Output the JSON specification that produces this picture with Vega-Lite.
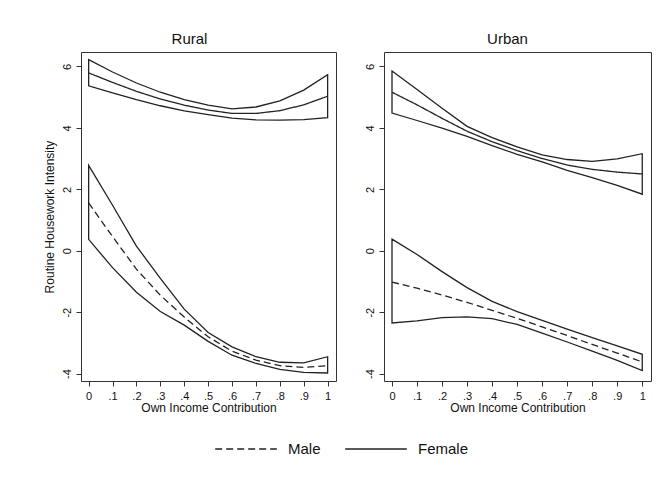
{
  "$schema": "https://vega.github.io/schema/vega-lite/v6.json",
  "background": "white",
  "padding": {"left": 42, "top": 31, "right": 5, "bottom": 5},
  "data": {"values": [
    {"region":"Rural","sex":"Female","x":0,"fit":5.79,"lo":5.37,"hi":6.22},
    {"region":"Rural","sex":"Female","x":0.1,"fit":5.48,"lo":5.14,"hi":5.82},
    {"region":"Rural","sex":"Female","x":0.2,"fit":5.19,"lo":4.92,"hi":5.46},
    {"region":"Rural","sex":"Female","x":0.3,"fit":4.94,"lo":4.72,"hi":5.16},
    {"region":"Rural","sex":"Female","x":0.4,"fit":4.74,"lo":4.55,"hi":4.92},
    {"region":"Rural","sex":"Female","x":0.5,"fit":4.58,"lo":4.43,"hi":4.74},
    {"region":"Rural","sex":"Female","x":0.6,"fit":4.47,"lo":4.32,"hi":4.62},
    {"region":"Rural","sex":"Female","x":0.7,"fit":4.47,"lo":4.26,"hi":4.68},
    {"region":"Rural","sex":"Female","x":0.8,"fit":4.56,"lo":4.25,"hi":4.88},
    {"region":"Rural","sex":"Female","x":0.9,"fit":4.75,"lo":4.27,"hi":5.23},
    {"region":"Rural","sex":"Female","x":1,"fit":5.03,"lo":4.33,"hi":5.73},
    {"region":"Rural","sex":"Male","x":0,"fit":1.56,"lo":0.37,"hi":2.78},
    {"region":"Rural","sex":"Male","x":0.1,"fit":0.46,"lo":-0.55,"hi":1.48},
    {"region":"Rural","sex":"Male","x":0.2,"fit":-0.6,"lo":-1.35,"hi":0.15},
    {"region":"Rural","sex":"Male","x":0.3,"fit":-1.45,"lo":-1.98,"hi":-0.9},
    {"region":"Rural","sex":"Male","x":0.4,"fit":-2.16,"lo":-2.42,"hi":-1.9},
    {"region":"Rural","sex":"Male","x":0.5,"fit":-2.8,"lo":-2.95,"hi":-2.66},
    {"region":"Rural","sex":"Male","x":0.6,"fit":-3.27,"lo":-3.4,"hi":-3.13},
    {"region":"Rural","sex":"Male","x":0.7,"fit":-3.56,"lo":-3.67,"hi":-3.45},
    {"region":"Rural","sex":"Male","x":0.8,"fit":-3.74,"lo":-3.86,"hi":-3.63},
    {"region":"Rural","sex":"Male","x":0.9,"fit":-3.8,"lo":-3.96,"hi":-3.65},
    {"region":"Rural","sex":"Male","x":1,"fit":-3.74,"lo":-3.98,"hi":-3.45},
    {"region":"Urban","sex":"Female","x":0,"fit":5.16,"lo":4.48,"hi":5.85},
    {"region":"Urban","sex":"Female","x":0.1,"fit":4.75,"lo":4.24,"hi":5.25},
    {"region":"Urban","sex":"Female","x":0.2,"fit":4.31,"lo":3.99,"hi":4.64},
    {"region":"Urban","sex":"Female","x":0.3,"fit":3.89,"lo":3.72,"hi":4.05},
    {"region":"Urban","sex":"Female","x":0.4,"fit":3.55,"lo":3.42,"hi":3.68},
    {"region":"Urban","sex":"Female","x":0.5,"fit":3.26,"lo":3.14,"hi":3.38},
    {"region":"Urban","sex":"Female","x":0.6,"fit":3.0,"lo":2.89,"hi":3.12},
    {"region":"Urban","sex":"Female","x":0.7,"fit":2.79,"lo":2.62,"hi":2.97},
    {"region":"Urban","sex":"Female","x":0.8,"fit":2.65,"lo":2.38,"hi":2.91},
    {"region":"Urban","sex":"Female","x":0.9,"fit":2.56,"lo":2.13,"hi":2.99},
    {"region":"Urban","sex":"Female","x":1,"fit":2.5,"lo":1.84,"hi":3.16},
    {"region":"Urban","sex":"Male","x":0,"fit":-1.02,"lo":-2.35,"hi":0.38},
    {"region":"Urban","sex":"Male","x":0.1,"fit":-1.22,"lo":-2.28,"hi":-0.12},
    {"region":"Urban","sex":"Male","x":0.2,"fit":-1.44,"lo":-2.18,"hi":-0.68},
    {"region":"Urban","sex":"Male","x":0.3,"fit":-1.68,"lo":-2.15,"hi":-1.2},
    {"region":"Urban","sex":"Male","x":0.4,"fit":-1.94,"lo":-2.21,"hi":-1.65},
    {"region":"Urban","sex":"Male","x":0.5,"fit":-2.2,"lo":-2.4,"hi":-1.98},
    {"region":"Urban","sex":"Male","x":0.6,"fit":-2.48,"lo":-2.68,"hi":-2.27},
    {"region":"Urban","sex":"Male","x":0.7,"fit":-2.76,"lo":-2.97,"hi":-2.55},
    {"region":"Urban","sex":"Male","x":0.8,"fit":-3.05,"lo":-3.27,"hi":-2.83},
    {"region":"Urban","sex":"Male","x":0.9,"fit":-3.33,"lo":-3.57,"hi":-3.1},
    {"region":"Urban","sex":"Male","x":1,"fit":-3.62,"lo":-3.9,"hi":-3.37}
  ]},
  "spacing": 26,
  "hconcat": [
    {
      "title": "Rural",
      "width": 255,
      "height": 329,
      "transform": [{"filter": "datum.region == 'Rural'"}],
      "encoding": {
        "x": {"field": "x", "type": "quantitative",
              "scale": {"domain": [-0.032, 1.035], "nice": false, "zero": false},
              "axis": {"values": [0,0.1,0.2,0.3,0.4,0.5,0.6,0.7,0.8,0.9,1],
                       "labelExpr": "datum.value == 0 ? '0' : datum.value == 1 ? '1' : replace(format(datum.value, '.1f'), '0.', '.')",
                       "title": "Own Income Contribution"}}
      },
      "layer": [
        {
          "mark": {"type": "area", "fillOpacity": 0, "stroke": "#222", "strokeWidth": 1.3},
          "encoding": {
            "y": {"field": "hi", "type": "quantitative",
                  "scale": {"domain": [-4.24, 6.47], "nice": false, "zero": false},
                  "axis": {"values": [-4,-2,0,2,4,6], "labelExpr": "'' + datum.value", "title": "Routine Housework Intensity"}},
            "y2": {"field": "lo"},
            "detail": {"field": "sex"}
          }
        },
        {
          "mark": {"type": "line", "stroke": "#222", "strokeWidth": 1.3},
          "encoding": {
            "y": {"field": "fit", "type": "quantitative"},
            "strokeDash": {"field": "sex", "type": "nominal",
                           "scale": {"domain": ["Male", "Female"], "range": [[7,4],[1,0]]},
                           "legend": {"orient": "none", "legendX": 133, "legendY": 365, "direction": "horizontal", "title": null}}
          }
        }
      ]
    },
    {
      "title": "Urban",
      "width": 267,
      "height": 329,
      "transform": [{"filter": "datum.region == 'Urban'"}],
      "encoding": {
        "x": {"field": "x", "type": "quantitative",
              "scale": {"domain": [-0.032, 1.035], "nice": false, "zero": false},
              "axis": {"values": [0,0.1,0.2,0.3,0.4,0.5,0.6,0.7,0.8,0.9,1],
                       "labelExpr": "datum.value == 0 ? '0' : datum.value == 1 ? '1' : replace(format(datum.value, '.1f'), '0.', '.')",
                       "title": "Own Income Contribution"}}
      },
      "layer": [
        {
          "mark": {"type": "area", "fillOpacity": 0, "stroke": "#222", "strokeWidth": 1.3},
          "encoding": {
            "y": {"field": "hi", "type": "quantitative",
                  "scale": {"domain": [-4.24, 6.47], "nice": false, "zero": false},
                  "axis": {"values": [-4,-2,0,2,4,6], "labelExpr": "'' + datum.value", "title": null}},
            "y2": {"field": "lo"},
            "detail": {"field": "sex"}
          }
        },
        {
          "mark": {"type": "line", "stroke": "#222", "strokeWidth": 1.3},
          "encoding": {
            "y": {"field": "fit", "type": "quantitative"},
            "strokeDash": {"field": "sex", "type": "nominal",
                           "scale": {"domain": ["Male", "Female"], "range": [[7,4],[1,0]]},
                           "legend": {"orient": "none", "legendX": 133, "legendY": 365, "direction": "horizontal", "title": null}}
          }
        }
      ]
    }
  ],
  "config": {
    "font": "Liberation Sans",
    "view": {"stroke": "#333", "strokeWidth": 1},
    "title": {"fontSize": 15, "fontWeight": "normal", "font": "Liberation Sans", "color": "#111", "offset": 5, "anchor": "middle", "frame": "bounds"},
    "axis": {
      "grid": false, "domain": false,
      "tickColor": "#333", "tickSize": 5, "tickWidth": 1,
      "labelFont": "Liberation Sans", "labelFontSize": 11, "labelColor": "#111", "labelPadding": 4,
      "titleFont": "Liberation Sans", "titleFontSize": 12, "titleFontWeight": "normal", "titleColor": "#111"
    },
    "axisX": {"titlePadding": 1},
    "axisY": {"labelAngle": -90, "labelAlign": "center", "labelBaseline": "bottom", "titlePadding": 5},
    "legend": {
      "symbolType": "stroke", "symbolSize": 3800, "symbolStrokeWidth": 1.5, "symbolStrokeColor": "#222",
      "labelFont": "Liberation Sans", "labelFontSize": 15, "labelColor": "#111", "labelOffset": 10,
      "columnPadding": 21
    }
  }
}
